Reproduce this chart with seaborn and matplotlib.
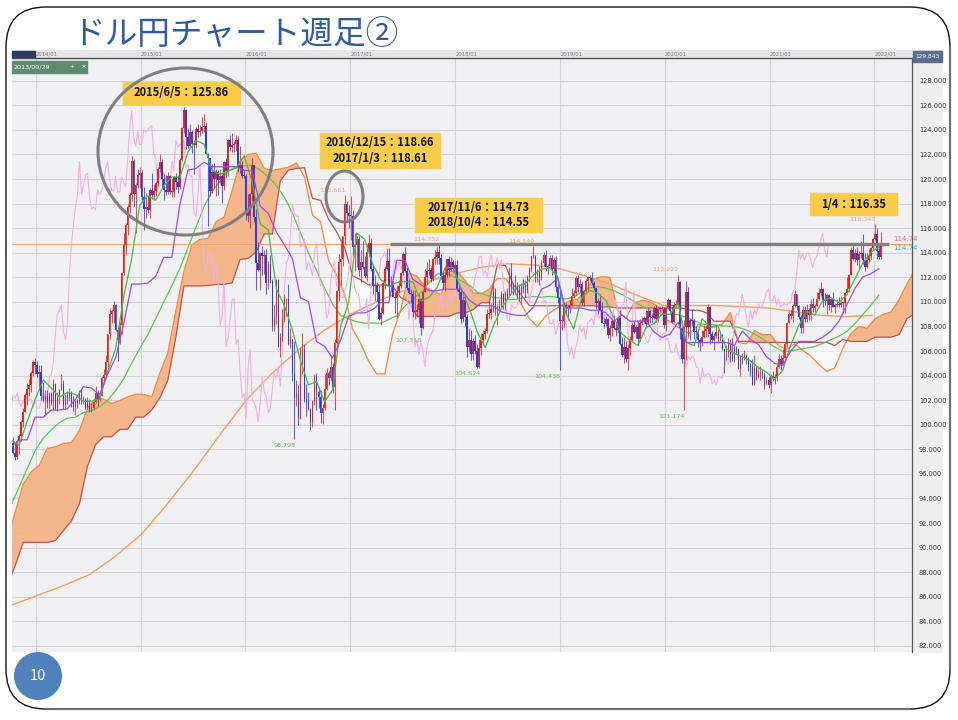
import numpy as np
import pandas as pd
import matplotlib
matplotlib.use("Agg")
import matplotlib.pyplot as plt
import matplotlib.dates as mdates
from matplotlib.patches import FancyBboxPatch, Ellipse, Rectangle
from matplotlib.transforms import IdentityTransform
from matplotlib import font_manager
import seaborn as sns

# ---------------- weekly USD/JPY candles (week starting Monday) ----------------
first_open = 97.45
closes_2013 = [98.55, 97.72, 97.40, 98.68, 99.06, 100.21, 101.02, 102.44, 102.93, 103.23, 104.18, 105.13]
highs_2013 = [98.75, 99.00, 98.50, 98.80, 99.25, 100.40, 101.40, 102.60, 103.40, 103.70, 104.40, 105.25]
lows_2013 = [96.95, 97.60, 97.15, 97.20, 97.60, 98.70, 99.80, 101.00, 101.60, 102.35, 102.70, 103.95]

closes_2014 = [104.85, 104.16, 104.33, 102.30, 102.03, 102.32, 101.78, 102.52, 101.80, 103.28, 101.33, 102.24, 102.83,
               103.30, 101.60, 102.40, 102.16, 102.56, 101.85, 101.48, 101.97, 101.78, 102.45, 102.04, 102.05, 101.35,
               102.05, 101.32, 101.35, 101.83, 102.58, 102.02, 102.35, 103.84, 104.08, 105.08, 107.35, 109.02, 109.28,
               109.76, 107.68, 106.89, 108.13, 112.33, 114.60, 116.29, 117.75, 118.66, 121.43, 118.77, 119.48, 120.32]
highs_2014 = [105.44, 105.20, 104.90, 104.90, 103.45, 102.80, 102.80, 102.70, 102.70, 103.75, 103.40, 102.70, 102.90,
              104.13, 103.60, 102.50, 102.75, 102.95, 102.75, 102.35, 102.05, 102.10, 102.80, 102.80, 102.35, 102.15,
              102.25, 102.10, 101.80, 101.90, 103.15, 102.80, 102.45, 104.00, 104.50, 105.70, 107.40, 109.45, 109.45,
              110.09, 109.80, 107.95, 108.35, 112.45, 115.60, 116.40, 118.00, 118.98, 121.85, 121.65, 119.70, 120.80]
lows_2014 = [104.10, 103.90, 102.85, 102.05, 101.85, 100.75, 101.40, 101.35, 101.60, 101.20, 101.20, 101.10, 101.70,
             102.80, 101.30, 101.30, 101.70, 101.95, 101.45, 101.10, 100.80, 101.40, 101.70, 101.65, 101.70, 101.25,
             101.25, 101.05, 101.05, 101.20, 101.75, 101.50, 101.90, 102.30, 103.50, 103.90, 104.70, 107.00, 108.30,
             108.30, 107.60, 105.20, 106.55, 107.40, 112.20, 113.85, 115.45, 117.25, 118.20, 117.80, 115.60, 119.30]

closes_2015 = [120.46, 118.53, 117.55, 117.72, 117.49, 119.13, 118.73, 119.01, 119.64, 120.82, 121.39, 120.04, 119.14,
               118.96, 120.22, 118.94, 118.94, 120.20, 119.76, 119.36, 121.53, 124.12, 125.58, 123.38, 122.68, 123.86,
               122.82, 122.80, 124.04, 123.81, 123.92, 124.21, 124.33, 122.03, 121.74, 119.02, 120.56, 119.97, 120.57,
               119.88, 120.22, 119.44, 121.42, 120.62, 123.14, 122.62, 122.80, 122.83, 123.14, 120.93, 121.18, 120.28]
highs_2015 = [121.00, 120.70, 119.35, 118.85, 118.65, 119.25, 120.45, 119.60, 119.85, 120.95, 122.03, 121.60, 120.40,
              120.35, 120.60, 120.35, 120.10, 120.25, 120.50, 120.30, 121.75, 124.20, 125.86, 125.65, 124.15, 124.45,
              123.95, 123.15, 124.25, 124.50, 124.40, 125.05, 125.28, 124.60, 122.10, 121.75, 121.25, 121.30, 120.80,
              120.75, 120.80, 120.40, 121.50, 121.75, 123.25, 123.60, 123.75, 123.10, 123.60, 123.50, 122.65, 121.45]
lows_2015 = [119.30, 118.30, 115.85, 116.80, 117.25, 116.85, 118.35, 118.30, 118.60, 119.45, 120.60, 119.25, 118.30,
             118.70, 118.75, 118.75, 118.55, 118.55, 119.20, 118.85, 119.20, 121.45, 123.75, 122.45, 122.50, 122.50,
             122.10, 120.40, 122.50, 123.40, 123.50, 123.75, 123.80, 122.00, 116.15, 118.60, 118.90, 119.30, 118.60,
             118.70, 119.60, 118.05, 119.10, 120.10, 120.25, 122.25, 122.20, 122.20, 122.30, 120.60, 120.50, 120.10]

closes_2016 = [120.21, 117.24, 116.96, 118.76, 121.12, 116.88, 113.18, 112.57, 113.98, 113.77, 113.79, 111.54, 113.05,
               111.69, 108.07, 108.76, 111.78, 106.31, 107.12, 108.61, 110.15, 110.25, 106.54, 106.95, 104.20, 102.20,
               102.53, 100.53, 104.82, 106.11, 102.06, 101.82, 101.31, 100.22, 101.83, 103.94, 102.65, 102.27, 100.99,
               101.35, 102.93, 104.17, 103.78, 104.70, 103.10, 106.64, 110.90, 113.21, 113.52, 115.38, 117.95, 117.24,
               116.96]
highs_2016 = [120.70, 120.40, 118.80, 118.90, 121.70, 121.15, 117.55, 114.85, 114.05, 114.55, 114.20, 114.30, 113.30,
              113.80, 111.85, 109.75, 111.90, 111.88, 107.45, 109.45, 110.60, 110.35, 111.45, 107.85, 107.00, 106.80,
              103.65, 103.20, 106.30, 107.50, 106.55, 103.35, 102.70, 101.35, 102.05, 104.15, 104.20, 103.10, 102.80,
              101.70, 104.15, 104.65, 104.35, 105.55, 105.00, 106.95, 110.95, 113.90, 114.80, 115.40, 118.66, 118.25,
              117.90]
lows_2016 = [120.05, 116.70, 116.50, 115.98, 118.20, 116.50, 110.98, 112.55, 110.98, 112.20, 112.25, 110.65, 111.05,
             111.55, 107.65, 107.60, 108.20, 106.30, 105.55, 106.80, 108.40, 108.85, 106.50, 106.25, 103.55, 98.80,
             101.50, 99.99, 100.45, 104.10, 101.85, 100.70, 101.20, 99.55, 99.85, 101.60, 101.20, 101.35, 100.10,
             100.08, 101.20, 102.80, 103.20, 103.55, 102.55, 101.20, 106.55, 110.05, 111.35, 112.90, 114.75, 116.55,
             116.05]

closes_2017 = [116.96, 114.48, 114.60, 115.11, 112.58, 113.22, 112.87, 112.12, 114.05, 114.79, 112.70, 111.33, 111.39,
               110.81, 108.64, 109.06, 111.52, 112.70, 113.35, 111.31, 111.34, 110.41, 110.33, 110.88, 111.29, 112.38,
               113.90, 112.53, 111.12, 110.70, 110.68, 109.19, 109.20, 109.35, 110.25, 107.84, 110.84, 111.99, 112.51,
               112.62, 111.83, 113.52, 113.67, 114.05, 113.53, 112.10, 111.52, 112.17, 113.48, 112.60, 113.27, 112.67]
highs_2017 = [118.61, 117.50, 115.60, 115.40, 115.35, 114.20, 114.95, 113.70, 114.75, 115.50, 115.20, 113.05, 112.20,
              111.60, 111.40, 109.60, 111.80, 112.90, 114.37, 114.35, 112.13, 111.70, 110.80, 111.40, 111.80, 112.40,
              114.05, 114.50, 112.80, 111.85, 111.05, 110.95, 110.95, 109.85, 110.65, 110.30, 111.00, 112.70, 113.25,
              113.45, 112.95, 113.55, 114.25, 114.45, 114.73, 113.90, 112.55, 112.90, 113.50, 113.75, 113.65, 113.40]
lows_2017 = [115.05, 113.75, 112.55, 112.85, 112.08, 111.60, 112.65, 111.95, 111.70, 113.65, 112.50, 110.65, 110.10,
             110.10, 108.55, 108.13, 109.00, 111.05, 112.60, 110.25, 110.85, 110.40, 109.10, 108.80, 110.75, 111.10,
             112.20, 112.40, 111.00, 110.60, 109.90, 108.75, 108.60, 108.80, 108.30, 107.32, 107.80, 110.80, 111.45,
             112.20, 111.65, 111.70, 113.10, 113.10, 113.05, 111.85, 111.05, 110.85, 112.05, 112.05, 112.50, 112.45]

closes_2018 = [113.04, 111.03, 110.77, 108.60, 110.16, 108.79, 106.29, 106.90, 105.72, 106.82, 105.98, 104.73, 106.28,
               106.93, 107.36, 107.66, 109.05, 109.12, 109.38, 110.78, 109.43, 109.53, 109.55, 110.66, 109.97, 110.67,
               110.47, 112.38, 111.41, 111.05, 111.25, 110.94, 110.52, 111.22, 111.03, 110.99, 112.06, 112.58, 113.70,
               113.71, 112.20, 112.54, 111.91, 113.20, 113.82, 112.81, 112.96, 113.57, 112.69, 113.40, 111.23, 110.28]
highs_2018 = [113.30, 113.40, 111.50, 111.20, 110.45, 110.50, 109.00, 107.90, 107.70, 107.05, 107.30, 106.55, 107.00,
              107.50, 107.75, 107.90, 109.45, 110.05, 109.90, 111.40, 111.10, 109.80, 110.25, 110.90, 110.75, 110.90,
              111.15, 112.80, 113.18, 111.55, 112.15, 111.60, 111.45, 111.50, 111.85, 111.75, 112.15, 112.85, 113.75,
              114.55, 113.85, 112.70, 112.90, 113.40, 114.05, 114.20, 113.10, 113.85, 113.80, 113.65, 113.70, 111.45]
lows_2018 = [112.05, 110.90, 110.20, 108.28, 108.40, 108.05, 105.55, 105.95, 105.25, 105.30, 105.75, 104.65, 104.63,
             105.70, 106.60, 106.95, 107.50, 108.65, 108.60, 109.20, 108.95, 108.10, 109.20, 109.55, 109.40, 109.35,
             110.25, 110.40, 110.75, 110.55, 110.60, 110.35, 110.10, 109.80, 110.70, 110.40, 110.75, 111.60, 112.40,
             113.55, 111.65, 111.65, 111.35, 111.80, 112.90, 112.55, 112.25, 112.90, 112.22, 112.25, 110.80, 109.90]

closes_2019 = [108.48, 108.48, 109.78, 109.55, 109.48, 109.74, 110.46, 110.69, 111.92, 111.17, 111.47, 109.91, 110.86,
               111.72, 112.02, 111.92, 111.57, 111.11, 109.94, 110.08, 109.30, 108.26, 108.19, 108.57, 107.32, 107.85,
               108.47, 107.90, 107.71, 108.67, 106.58, 105.67, 106.36, 105.37, 106.28, 106.91, 108.09, 107.56, 107.92,
               106.94, 108.29, 108.44, 108.67, 108.19, 109.26, 108.78, 108.67, 109.48, 108.58, 109.38, 109.42, 109.44]
highs_2019 = [110.85, 108.95, 109.85, 109.90, 109.75, 110.15, 111.15, 111.00, 112.10, 112.15, 111.90, 111.70, 111.00,
              111.85, 112.10, 112.15, 112.40, 111.70, 111.15, 110.30, 110.65, 109.95, 108.65, 108.80, 108.65, 108.15,
              108.65, 108.95, 108.35, 108.80, 109.30, 107.10, 107.10, 106.80, 106.60, 107.25, 108.25, 108.45, 108.15,
              108.45, 108.60, 108.75, 108.85, 109.30, 109.50, 109.35, 109.10, 109.70, 109.75, 109.70, 109.70, 109.70]
lows_2019 = [104.44, 107.75, 107.95, 109.00, 108.50, 109.10, 109.70, 110.35, 110.55, 110.80, 110.80, 109.75, 109.70,
             110.80, 110.85, 111.70, 111.40, 111.00, 109.45, 109.00, 109.30, 108.25, 107.85, 108.00, 107.05, 106.80,
             107.20, 107.80, 107.20, 107.50, 106.50, 105.50, 105.05, 105.10, 104.45, 105.70, 106.85, 107.45, 107.05,
             106.50, 106.80, 108.10, 108.25, 107.90, 108.15, 108.25, 108.25, 108.60, 108.40, 108.40, 109.20, 109.25]

closes_2020 = [108.10, 109.50, 110.14, 109.28, 108.35, 109.74, 109.77, 111.61, 107.89, 105.39, 107.99, 110.83, 107.94,
               108.49, 108.46, 107.53, 107.51, 106.91, 106.65, 107.14, 107.60, 107.77, 109.59, 107.37, 106.87, 107.22,
               107.51, 106.92, 107.00, 106.13, 105.88, 105.92, 106.60, 105.78, 105.36, 106.23, 106.16, 104.56, 105.58,
               105.30, 105.61, 105.40, 104.70, 104.66, 103.35, 104.62, 103.86, 104.09, 104.16, 104.04, 103.33, 103.63]
highs_2020 = [109.55, 109.65, 110.30, 110.20, 109.60, 110.00, 110.15, 112.22, 111.70, 108.50, 108.50, 111.71, 111.25,
              108.70, 109.40, 108.60, 108.05, 107.80, 107.05, 107.75, 108.10, 108.10, 109.85, 109.65, 107.65, 107.45,
              108.15, 107.80, 107.40, 107.40, 106.20, 106.50, 107.05, 106.95, 107.05, 106.55, 106.40, 106.20, 105.70,
              105.80, 106.10, 105.75, 105.55, 105.05, 105.35, 105.65, 104.80, 104.75, 104.75, 104.50, 104.30, 103.90]
lows_2020 = [107.85, 107.65, 109.40, 109.15, 108.30, 108.30, 109.55, 109.70, 107.00, 105.00, 101.18, 105.25, 107.10,
             106.90, 108.05, 106.95, 107.25, 106.35, 106.00, 106.40, 107.05, 107.10, 107.10, 106.60, 106.70, 106.10,
             107.05, 106.65, 106.80, 106.10, 104.20, 105.30, 105.50, 105.10, 105.20, 105.10, 105.85, 104.50, 104.00,
             104.95, 105.25, 104.95, 104.35, 104.00, 103.20, 103.20, 103.65, 103.80, 103.65, 103.80, 102.90, 103.20]

closes_2021 = [103.25, 103.94, 103.86, 103.78, 104.68, 105.39, 104.94, 105.45, 106.57, 108.32, 109.04, 108.88, 109.64,
               110.61, 109.65, 108.78, 107.88, 109.31, 108.57, 109.36, 108.95, 109.85, 109.49, 109.67, 110.21, 110.76,
               111.05, 110.14, 110.07, 110.55, 109.72, 110.26, 109.58, 109.78, 109.84, 109.71, 109.93, 109.93, 110.73,
               111.05, 112.21, 114.21, 113.50, 113.95, 113.41, 113.91, 114.00, 113.39, 112.80, 113.40, 113.70, 114.38,
               115.08]
highs_2021 = [103.85, 104.10, 104.40, 104.10, 104.95, 105.75, 105.65, 106.20, 106.70, 108.40, 109.25, 109.35, 109.85,
              110.95, 110.65, 109.75, 108.95, 109.70, 109.70, 109.80, 109.50, 110.20, 110.35, 109.85, 110.80, 111.10,
              111.65, 111.10, 110.70, 110.60, 110.60, 110.35, 110.80, 109.90, 110.20, 110.40, 110.45, 110.10, 110.80,
              112.05, 112.25, 114.45, 114.70, 114.30, 114.45, 114.15, 114.95, 115.52, 113.95, 113.95, 114.30, 114.45,
              115.20]
lows_2021 = [103.00, 102.60, 103.55, 103.30, 103.55, 104.60, 104.45, 104.90, 105.15, 106.35, 108.30, 108.60, 108.40,
             109.55, 109.35, 108.60, 107.48, 107.50, 108.35, 108.35, 108.55, 108.55, 109.20, 109.20, 109.60, 110.15,
             110.50, 109.55, 109.75, 109.05, 109.35, 109.15, 109.55, 109.10, 109.60, 109.60, 109.60, 109.10, 109.10,
             110.70, 110.80, 112.20, 113.40, 113.25, 113.00, 112.70, 113.60, 113.05, 112.55, 112.75, 113.15, 113.45,
             114.25]

closes_2022 = [115.56, 114.18, 113.68, 114.74]
highs_2022 = [116.35, 116.05, 114.80, 115.70]
lows_2022 = [115.05, 113.50, 113.50, 113.48]

# ---------------- indicator lines (one value every 4 weeks) ----------------
tenkan = [98.78, 98.33, 100.28, 102.07, 103.65, 102.98, 102.25, 102.62, 102.47, 101.88, 101.93, 102.1, 104.3, 106.2,
          110.4, 113.53, 117.85, 118.63, 118.28, 119.44, 120.17, 120.15, 122.2, 123.13, 122.84, 120.72, 120.38,
          120.65, 120.9, 121.9, 119.74, 116.34, 115.85, 111.08, 109.68, 107.72, 105.22, 103.24, 103.53, 101.88,
          102.82, 108.0, 109.93, 115.6, 115.1, 113.08, 111.82, 111.25, 111.58, 111.65, 111.63, 110.06, 110.38,
          111.15, 112.79, 112.79, 111.02, 109.48, 107.58, 106.27, 108.02, 109.45, 110.45, 111.27, 111.49, 112.18,
          112.65, 112.78, 112.05, 109.12, 107.8, 110.33, 110.93, 110.7, 110.13, 108.73, 107.4, 106.88, 106.45,
          107.9, 108.25, 109.0, 108.98, 109.94, 106.7, 106.45, 108.63, 107.93, 107.98, 106.18, 105.8, 105.53,
          105.2, 104.65, 104.28, 103.68, 104.4, 106.45, 108.05, 109.22, 108.92, 110.1, 110.35, 109.93, 110.58,
          111.9, 113.16, 114.04, 114.45]
kijun = [98.17, 98.77, 98.77, 100.62, 100.62, 101.2, 101.2, 101.3, 102.07, 103.1, 102.98, 102.44, 104.1, 105.45,
         108.2, 111.45, 111.45, 111.53, 112.08, 113.62, 113.62, 117.94, 120.73, 120.86, 121.36, 121.0, 121.0, 121.0,
         121.0, 120.72, 120.63, 117.79, 117.2, 115.68, 114.65, 113.53, 110.34, 110.02, 106.77, 106.39, 105.43,
         106.89, 108.82, 109.1, 109.1, 109.37, 109.93, 109.93, 113.4, 113.37, 111.82, 111.41, 110.91, 110.91,
         111.03, 111.03, 111.03, 110.14, 109.69, 109.68, 109.68, 109.19, 109.02, 108.9, 108.9, 109.59, 111.03,
         111.33, 111.95, 109.5, 109.5, 109.5, 109.32, 109.32, 109.12, 108.42, 108.95, 108.43, 108.43, 108.43,
         107.55, 107.1, 107.38, 108.34, 106.7, 106.7, 106.7, 106.7, 106.7, 106.7, 106.45, 107.63, 106.93, 106.53,
         105.53, 105.0, 104.83, 105.98, 106.78, 106.78, 106.78, 107.13, 107.6, 108.4, 109.77, 111.09, 112.04,
         112.29, 112.7]
ma52 = [93.5, 94.93, 96.44, 97.89, 98.91, 99.59, 100.16, 100.53, 100.61, 101.0, 101.15, 101.48, 101.96, 102.77,
        103.72, 105.01, 106.2, 107.32, 108.63, 110.01, 111.31, 112.71, 114.39, 116.08, 117.76, 118.97, 119.83,
        120.65, 120.99, 121.06, 121.11, 120.73, 120.17, 119.47, 118.53, 117.23, 115.62, 113.98, 112.55, 111.14,
        109.82, 108.91, 108.62, 108.38, 108.26, 108.28, 108.26, 108.58, 108.87, 109.64, 110.23, 110.77, 111.54,
        112.26, 112.36, 112.06, 111.72, 111.36, 110.79, 110.57, 110.37, 110.29, 110.17, 110.22, 110.36, 110.44,
        110.38, 110.45, 110.37, 110.23, 110.38, 110.79, 111.14, 111.23, 111.13, 110.91, 110.6, 110.24, 109.82,
        109.51, 109.18, 108.98, 108.99, 108.97, 108.73, 108.47, 108.18, 108.15, 108.09, 108.02, 108.0, 107.83,
        107.58, 107.19, 106.77, 106.34, 105.98, 106.0, 106.12, 106.25, 106.36, 106.62, 106.92, 107.2, 107.59,
        108.23, 108.98, 109.73, 110.57]
# leading spans, placed 26 weeks ahead (first value at 2013-09-23)
span_a = [90.53, 92.88, 95.17, 96.17, 96.71, 98.09, 98.19, 98.48, 98.55, 99.53, 101.35, 102.14, 102.09, 101.73,
          101.96, 102.27, 102.49, 102.46, 102.27, 104.2, 105.83, 109.3, 112.49, 114.65, 115.08, 115.18, 116.53,
          116.9, 119.05, 121.47, 122.0, 122.1, 120.86, 120.69, 120.83, 120.95, 121.31, 120.19, 117.07, 116.53,
          113.38, 112.17, 110.63, 107.78, 106.63, 105.15, 104.14, 104.13, 107.45, 109.38, 112.35, 112.1, 111.23,
          110.88, 110.59, 112.49, 112.51, 111.73, 110.74, 110.65, 111.03, 111.91, 111.91, 111.03, 109.81, 108.64,
          107.98, 108.85, 109.32, 109.74, 110.09, 110.2, 110.89, 111.84, 112.06, 112.0, 109.31, 108.65, 109.92,
          110.13, 110.01, 109.63, 108.58, 108.18, 107.66, 107.44, 108.17, 107.9, 108.05, 108.18, 109.14, 106.7,
          106.58, 107.67, 107.32, 107.34, 106.44, 106.13, 106.58, 106.07, 105.59, 104.91, 104.34, 104.62, 106.22,
          107.42, 108.0, 107.85, 108.62, 108.98, 109.17, 110.18, 111.5, 112.6, 113.17, 113.58]
span_b = [86.9, 88.53, 90.42, 90.42, 90.42, 90.42, 90.57, 91.37, 92.17, 93.57, 96.62, 98.37, 99.02, 99.02, 99.62,
          99.62, 100.62, 100.62, 101.2, 102.18, 103.62, 107.15, 111.3, 111.3, 111.3, 111.33, 111.42, 111.42, 111.54,
          113.46, 113.53, 114.08, 115.53, 115.53, 119.86, 120.73, 120.86, 120.92, 118.42, 118.26, 116.73, 115.7,
          114.42, 112.13, 111.79, 111.37, 111.37, 111.37, 111.24, 110.34, 110.02, 108.82, 108.82, 108.82, 108.82,
          108.82, 109.1, 109.1, 109.37, 109.93, 109.93, 112.99, 112.97, 111.41, 110.53, 109.69, 109.68, 109.68,
          109.68, 109.68, 109.68, 109.68, 109.68, 109.68, 109.59, 109.59, 109.5, 109.5, 109.5, 109.5, 109.5, 109.5,
          109.5, 109.5, 109.5, 109.32, 109.32, 109.12, 108.42, 108.43, 108.43, 106.79, 106.79, 106.7, 106.7, 106.7,
          106.7, 106.7, 106.7, 106.7, 106.7, 106.7, 106.7, 106.45, 106.93, 106.78, 106.78, 106.78, 107.13, 107.13,
          107.13, 107.33, 108.65, 109.06, 109.06, 109.95]
# 200-week moving average, one value per quarter
ma200 = [85.3, 86.1, 86.9, 87.8, 89.3, 91.1, 93.6, 96.3, 99.2, 102.0, 104.2, 106.1, 107.7, 109.0, 110.0, 110.9,
         111.7, 112.3, 112.8, 113.1, 113.0, 112.7, 112.1, 111.4, 110.5, 109.7, 109.7, 109.7, 109.6, 109.5, 109.2,
         108.9, 108.8, 108.9]

# price labels printed on the chart
high_label_dates = ["2015-06-01", "2016-12-12", "2017-11-06", "2018-10-01", "2020-02-17", "2022-01-03"]
high_label_texts = ["125.853", "118.661", "114.732", "114.549", "112.222", "116.347"]
low_label_dates = ["2016-06-20", "2017-09-04", "2018-03-26", "2018-12-31", "2020-03-09"]
low_label_texts = ["98.798", "107.318", "104.624", "104.438", "101.174"]
line_level = 114.73
last_price = "114.74"
callouts = ["2015/6/5：125.86", "2016/12/15：118.66\n2017/1/3：118.61",
            "2017/11/6：114.73\n2018/10/4：114.55", "1/4：116.35"]
title = "ドル円チャート週足②"
page_no = "10"

# ---------------- assemble ----------------
closes = np.array(closes_2013 + closes_2014 + closes_2015 + closes_2016 + closes_2017 + closes_2018 +
                  closes_2019 + closes_2020 + closes_2021 + closes_2022)
highs = np.array(highs_2013 + highs_2014 + highs_2015 + highs_2016 + highs_2017 + highs_2018 +
                 highs_2019 + highs_2020 + highs_2021 + highs_2022)
lows = np.array(lows_2013 + lows_2014 + lows_2015 + lows_2016 + lows_2017 + lows_2018 +
                lows_2019 + lows_2020 + lows_2021 + lows_2022)
opens = np.concatenate([[first_open], closes[:-1]])
highs = np.maximum(highs, np.maximum(opens, closes))
lows = np.minimum(lows, np.minimum(opens, closes))
week_dates = pd.date_range("2013-10-07", periods=len(closes), freq="7D")
wx = mdates.date2num(week_dates.to_pydatetime())

ind_x = mdates.date2num(pd.date_range("2013-10-07", periods=len(tenkan), freq="28D").to_pydatetime())
span_x = mdates.date2num(pd.date_range("2013-09-23", periods=len(span_a), freq="28D").to_pydatetime())
ma200_x = mdates.date2num(pd.date_range("2013-10-07", periods=len(ma200), freq="91D").to_pydatetime())
sa = np.array(span_a)
sb = np.array(span_b)

sns.set_theme(style="white")
plt.rcParams['font.family'] = ['Noto Sans CJK JP', 'DejaVu Sans']
names = {f.name for f in font_manager.fontManager.ttflist}
narrow = 'Liberation Sans Narrow' if 'Liberation Sans Narrow' in names else 'DejaVu Sans'

W, H = 958, 720
fig = plt.figure(figsize=(W / 100, H / 100), dpi=100)
fig.patch.set_facecolor('white')


def fx(px):
    return px / W


def fy(py):
    return 1 - py / H


ax = fig.add_axes([fx(12), fy(652), fx(912) - fx(12), fy(58) - fy(652)])
ax.set_facecolor('#F0F0F3')

# cloud
ax.fill_between(span_x, sa, sb, where=sa >= sb, interpolate=True, color='#F5B487', alpha=0.95, lw=0, zorder=1)
ax.fill_between(span_x, sa, sb, where=sa < sb, interpolate=True, color='white', alpha=0.55, lw=0, zorder=1)
sns.lineplot(x=span_x, y=sa, ax=ax, color='#F08A3E', lw=0.9, zorder=2, estimator=None, sort=False)
sns.lineplot(x=span_x, y=sb, ax=ax, color='#C0504D', lw=0.9, zorder=2, estimator=None, sort=False)

# moving averages and lagging span
sns.lineplot(x=ma200_x, y=ma200, ax=ax, color='#F5A05E', lw=1.0, zorder=2, estimator=None, sort=False)
sns.lineplot(x=ind_x, y=ma52, ax=ax, color='#5CC653', lw=0.9, zorder=2, estimator=None, sort=False)
sns.lineplot(x=wx[:-26], y=closes[26:], ax=ax, color='#F3AEE3', lw=0.8, zorder=2, estimator=None, sort=False)

# candles
up = closes >= opens
cols = np.where(up, '#E8231C', '#2E3BE2')
ax.vlines(wx, lows, highs, colors=cols, lw=0.75, alpha=0.8, zorder=3)
body_lo = np.minimum(opens, closes)
body_h = np.maximum(np.abs(closes - opens), 0.08)
ax.bar(wx, body_h, bottom=body_lo, width=5.4, color=cols, lw=0, zorder=3)

# conversion / base lines
sns.lineplot(x=ind_x, y=tenkan, ax=ax, color='#3FBF3F', lw=0.9, zorder=4, estimator=None, sort=False)
sns.lineplot(x=ind_x, y=kijun, ax=ax, color='#9C4BEA', lw=0.9, zorder=4, estimator=None, sort=False)

# horizontal lines
ax.axhline(line_level, color='#F5A05E', lw=0.7, zorder=2)
ax.hlines(line_level, mdates.datestr2num("2017-05-18"), mdates.datestr2num("2022-02-20"),
          color='#808080', lw=2.4, zorder=6)

# price labels
for d, t in zip(high_label_dates, high_label_texts):
    ax.annotate(t, (mdates.datestr2num(d) + 3, float(t)), xytext=(0, 1.5), textcoords='offset points',
                ha='right', va='bottom', fontsize=4.6, color='#F4A060', family=narrow, zorder=7)
for d, t in zip(low_label_dates, low_label_texts):
    ax.annotate(t, (mdates.datestr2num(d) + 3, float(t)), xytext=(0, -2.5), textcoords='offset points',
                ha='right', va='top', fontsize=4.6, color='#5DBB4A', family=narrow, zorder=7)

# axes styling
ax.set_xlim(mdates.datestr2num("2013-10-10"), mdates.datestr2num("2022-05-12"))
ax.set_ylim(81.5, 129.85)
years = [mdates.datestr2num(f"{y}-01-01") for y in range(2014, 2023)]
ax.set_xticks(years)
ax.set_xticklabels([])
yt = list(range(82, 130, 2))
ax.set_yticks(yt)
ax.set_yticklabels([f"{v:.3f}" for v in yt], family=narrow, fontsize=4.8, color='#333333')
ax.yaxis.tick_right()
ax.tick_params(axis='y', length=0, pad=5)
ax.tick_params(axis='x', length=0)
ax.grid(True, color='#D3D3D7', lw=0.8, zorder=0)
ax.set_axisbelow(True)
for s in ['left', 'top', 'bottom']:
    ax.spines[s].set_visible(False)
ax.spines['right'].set_color('#555555')
ax.spines['right'].set_linewidth(0.9)
ax.set_xlabel('')
ax.set_ylabel('')

# right scale panel and header strip
fig.add_artist(Rectangle((fx(912), fy(652)), fx(942) - fx(912), fy(58) - fy(652), transform=fig.transFigure,
                         color='#EEEEEF', zorder=-1))
fig.add_artist(Rectangle((fx(12), fy(58)), fx(942) - fx(12), fy(50) - fy(58), transform=fig.transFigure,
                         color='#E6E6EA', zorder=-1))
fig.add_artist(plt.Line2D([fx(12), fx(912)], [fy(58), fy(58)], transform=fig.transFigure, color='#505050', lw=1.0))
fig.add_artist(Rectangle((fx(12), fy(57)), fx(35) - fx(12), fy(51) - fy(57), transform=fig.transFigure,
                         color='#2D3B5C', zorder=2))
fig.add_artist(Rectangle((fx(913), fy(62)), fx(942) - fx(913), fy(51) - fy(62), transform=fig.transFigure,
                         color='#5C6C8E', zorder=2))
fig.text(fx(927.5), fy(56.5), "129.843", fontsize=4.2, color='white', ha='center', va='center', family=narrow)
for i, y in enumerate(range(2014, 2023)):
    fig.text(fx(36 + i * 104.85), fy(54), f"{y}/01", fontsize=3.8, color='#777777', ha='left', va='center',
             family=narrow)
# date tag
fig.add_artist(Rectangle((fx(12), fy(73)), fx(87) - fx(12), fy(61) - fy(73), transform=fig.transFigure,
                         color='#5E8B70', zorder=2))
fig.text(fx(14), fy(67), "2013/09/29", fontsize=4.6, color='white', ha='left', va='center', family=narrow)
fig.text(fx(70), fy(67), "+   ×", fontsize=4.6, color='white', ha='left', va='center', family=narrow)

# last-price tags
fig.text(fx(893), fy(239), last_price, fontsize=5, color='#F0608C', ha='left', va='center', family=narrow)
fig.text(fx(893), fy(248), last_price, fontsize=5, color='#34ADEE', ha='left', va='center', family=narrow)

# callout boxes
boxes = [(123, 82, 240, 104), (320, 133, 440, 168), (415, 198, 542, 232), (810, 193, 897, 215)]
for (x0, y0, x1, y1), t in zip(boxes, callouts):
    fig.add_artist(Rectangle((fx(x0), fy(y1)), fx(x1) - fx(x0), fy(y0) - fy(y1), transform=fig.transFigure,
                             color='#F9CC4A', zorder=8))
    fig.text(fx((x0 + x1) / 2), fy((y0 + y1) / 2), t, fontsize=8, fontweight='bold', color='#111111',
             ha='center', va='center', linespacing=1.25, zorder=9)

# circles
idt = IdentityTransform()
fig.add_artist(Ellipse((185.5, H - 151.5), 175, 167, transform=idt, fc='none', ec='#7F7F7F', lw=2.2, zorder=10))
fig.add_artist(Ellipse((344.5, H - 196.5), 37, 51, transform=idt, fc='none', ec='#7F7F7F', lw=2.2, zorder=10))

# slide frame (thin outline, heavier grey on right and bottom edges), title and page number
fig.add_artist(FancyBboxPatch((6, H - 709), 944, 702, boxstyle="round,pad=0,rounding_size=40", transform=idt,
                              fc='none', ec='#111111', lw=1.0, zorder=12))
fig.add_artist(plt.Line2D([950, 950], [H - 668, H - 48], transform=idt, color='#6E6E6E', lw=1.6, zorder=13))
fig.add_artist(plt.Line2D([46, 910], [H - 709, H - 709], transform=idt, color='#6E6E6E', lw=1.6, zorder=13))
fig.text(fx(72), fy(35), title, fontsize=23.5, color='#2E5C9E', ha='left', va='center',
         family=['Noto Sans CJK JP', 'DejaVu Sans'], zorder=12)
fig.add_artist(Ellipse((38, H - 676), 48, 48, transform=idt, fc='#4F81BD', ec='none', zorder=12))
fig.text(fx(38), fy(676), page_no, fontsize=10.5, color='white', ha='center', va='center', zorder=13)

fig.savefig("out.png", dpi=100, facecolor='white')
